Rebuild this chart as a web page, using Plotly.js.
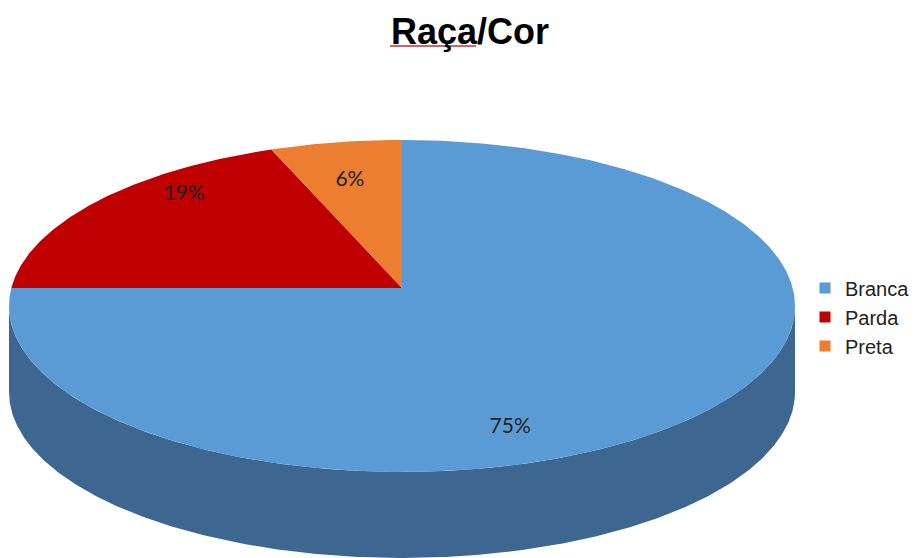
<!DOCTYPE html>
<html>
<head>
<meta charset="utf-8">
<script src="https://cdn.plot.ly/plotly-3.0.1.min.js"></script>
<style>html,body{margin:0;padding:0;background:#fff;}#chart{width:921px;height:558px;}</style>
</head>
<body>
<div id="chart"></div>
<script>
// ---- data ----
var categories = ['Branca', 'Parda', 'Preta'];
var values = [75, 19, 6];
var labels = ['75%', '19%', '6%'];
var chartTitle = 'Raça/Cor';

// ---- style ----
var topColors = ['#5b9bd5', '#c00000', '#ed7d31'];
var sideColors = ['#3d6690', '#7e0000', '#a8561f'];
// label placement tweaks (degrees offset from slice middle, radial fraction)
var labelAngleShift = [27, 11.4, -0.7];
var labelRadius = [0.82, 0.85, 0.72];

// ---- 3D projection (pixel space) ----
var cx = 402, cy = 288, D = 9.23, G = 1514, F = 3606, depth = 86;
function proj(theta, r) {
  var t = theta * Math.PI / 180;
  var u = r * Math.sin(t), v = -r * Math.cos(t);
  return [cx + F * u / (D - v), cy + G * v / (D - v)];
}
var total = values.reduce(function (a, b) { return a + b; }, 0);
var silA = Math.acos(-1 / D) * 180 / Math.PI, silB = 360 - silA;

var traces = [];
var start = 0;
var labX = [], labY = [];
var sideTraces = [], topTraces = [];
values.forEach(function (val, i) {
  var end = start + val / total * 360;
  // wall
  var a = Math.max(start, silA), b = Math.min(end, silB);
  if (b > a) {
    var xs = [], ys = [], th, p;
    for (th = a; th <= b + 1e-9; th += 0.5) { p = proj(th, 1); xs.push(p[0]); ys.push(p[1]); }
    p = proj(b, 1); xs.push(p[0]); ys.push(p[1]);
    p = proj(b, 1); xs.push(p[0]); ys.push(p[1] + depth);
    for (th = b; th >= a - 1e-9; th -= 0.5) { p = proj(th, 1); xs.push(p[0]); ys.push(p[1] + depth); }
    p = proj(a, 1); xs.push(p[0]); ys.push(p[1] + depth);
    sideTraces.push({ x: xs, y: ys, type: 'scatter', mode: 'lines', fill: 'toself',
      fillcolor: sideColors[i], line: { width: 0 }, showlegend: false, hoverinfo: 'skip' });
  }
  // top face
  var tx = [cx], ty = [cy];
  for (var th2 = start; th2 <= end + 1e-9; th2 += 0.5) { var q = proj(th2, 1); tx.push(q[0]); ty.push(q[1]); }
  var qe = proj(end, 1); tx.push(qe[0]); ty.push(qe[1]);
  tx.push(cx); ty.push(cy);
  topTraces.push({ x: tx, y: ty, type: 'scatter', mode: 'lines', fill: 'toself',
    fillcolor: topColors[i], line: { width: 0 }, showlegend: false, hoverinfo: 'skip' });
  var lp = proj((start + end) / 2 + labelAngleShift[i], labelRadius[i]);
  labX.push(lp[0]); labY.push(lp[1]);
  start = end;
});
traces = traces.concat(sideTraces, topTraces);
traces.push({ x: labX, y: labY, text: labels, type: 'scatter', mode: 'text',
  textfont: { family: 'Lato, sans-serif', size: 21, color: '#222' },
  showlegend: false, hoverinfo: 'skip' });
categories.forEach(function (c, i) {
  traces.push({ x: [null], y: [null], type: 'scatter', mode: 'markers', name: c,
    marker: { symbol: 'square', size: 11, color: topColors[i] }, showlegend: true });
});

var layout = {
  width: 921, height: 558, autosize: false,
  margin: { l: 0, r: 0, t: 0, b: 0 },
  paper_bgcolor: '#fff', plot_bgcolor: '#fff',
  xaxis: { range: [0, 921], visible: false, fixedrange: true },
  yaxis: { range: [558, 0], visible: false, fixedrange: true },
  title: { text: '<b>' + chartTitle + '</b>', x: 470 / 921, xanchor: 'center',
    y: 1 - 31 / 558, yanchor: 'middle',
    font: { family: 'Liberation Sans, Arial, sans-serif', size: 36, color: '#000' } },
  legend: { x: 805 / 921, xanchor: 'left', y: 1 - 317 / 558, yanchor: 'middle',
    font: { family: 'Liberation Sans, Arial, sans-serif', size: 20, color: '#222' },
    bgcolor: 'rgba(0,0,0,0)', borderwidth: 0, tracegroupgap: 0 },
  shapes: [
    { type: 'line', xref: 'x', yref: 'y', x0: 390, x1: 476, y0: 46, y1: 46,
      line: { color: '#c03030', width: 1.5 } }
  ],
  showlegend: true
};
Plotly.newPlot('chart', traces, layout, { displayModeBar: false, staticPlot: true });
</script>
</body>
</html>
